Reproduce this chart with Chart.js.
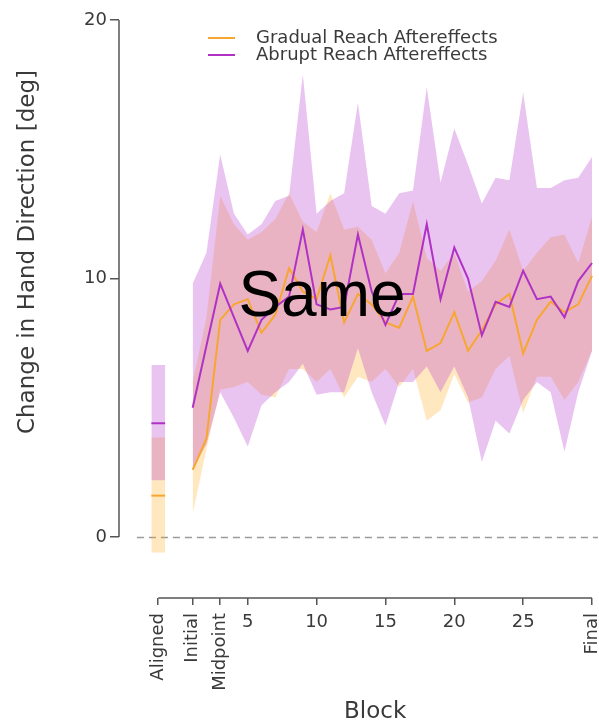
<!DOCTYPE html>
<html>
<head>
<meta charset="utf-8">
<script src="https://cdn.jsdelivr.net/npm/chart.js@4.4.0/dist/chart.umd.min.js"></script>
<style>
  html, body { margin: 0; padding: 0; background: #fff; }
  #chart { display: block; }
</style>
</head>
<body>
<canvas id="chart" width="599" height="723"></canvas>
<script>
// Training blocks
const blocks = [1, 2, 3, 4, 5, 6, 7, 8, 9, 10, 11, 12, 13, 14, 15,
                16, 17, 18, 19, 20, 21, 22, 23, 24, 25, 26, 27, 28, 29, 30];

// Gradual reach aftereffects (mean and shaded band)
const gradualMean = [2.6, 3.8, 8.4, 9.0, 9.2, 7.9, 8.6, 10.4, 9.5, 9.2, 10.9, 8.3, 9.4, 9.0, 8.3,
                     8.1, 9.3, 7.2, 7.5, 8.7, 7.2, 8.0, 9.0, 9.4, 7.1, 8.4, 9.1, 8.7, 9.0, 10.1];
const gradualLow  = [0.9, 3.4, 5.7, 5.8, 6.0, 5.5, 5.4, 6.5, 6.5, 6.0, 6.5, 5.4, 6.2, 6.0, 6.5,
                     5.8, 6.5, 4.5, 4.9, 6.3, 5.2, 5.4, 6.5, 7.0, 4.8, 6.2, 6.2, 5.3, 6.0, 7.2];
const gradualHigh = [6.0, 8.5, 13.2, 12.1, 11.5, 11.8, 12.3, 13.3, 12.2, 11.8, 13.3, 11.9, 12.0, 11.5, 10.2,
                     11.0, 13.0, 10.8, 10.3, 11.0, 9.5, 9.9, 10.7, 11.9, 10.3, 11.0, 11.6, 11.7, 10.6, 12.4];

// Abrupt reach aftereffects (mean and shaded band)
const abruptMean = [5.0, 7.4, 9.8, 8.5, 7.2, 8.4, 8.9, 9.3, 11.9, 9.0, 8.8, 8.9, 11.7, 9.5, 8.2,
                    9.4, 9.4, 12.1, 9.2, 11.2, 10.0, 7.8, 9.1, 8.9, 10.3, 9.2, 9.3, 8.5, 9.9, 10.6];
const abruptLow  = [2.6, 3.6, 5.6, 4.6, 3.5, 5.1, 5.6, 6.0, 6.7, 5.5, 5.6, 5.6, 7.3, 5.6, 4.3,
                    6.0, 6.0, 6.6, 5.6, 6.6, 5.4, 2.9, 4.5, 4.0, 5.3, 6.0, 5.6, 3.3, 5.6, 7.2];
const abruptHigh = [9.8, 11.0, 14.8, 12.5, 11.7, 12.1, 13.0, 13.2, 17.9, 12.5, 13.0, 13.3, 16.8, 12.8, 12.5,
                    13.3, 13.4, 17.4, 13.7, 15.8, 14.4, 12.9, 13.9, 13.8, 17.2, 13.5, 13.5, 13.8, 13.9, 14.7];

// Aligned baseline bar: [low, mean, high]
const alignedSpan = [-2, -1];
const alignedGradual = [-0.6, 1.6, 3.85];
const alignedAbrupt = [2.2, 4.4, 6.65];

const xTickValues = [-1.5, 1, 3, 5, 10, 15, 20, 25, 30];
const xTickLabels = ['Aligned', 'Initial', 'Midpoint', '5', '10', '15', '20', '25', 'Final'];
const yTickValues = [0, 10, 20];

const ORANGE = 'rgb(247, 166, 50)';
const PURPLE = 'rgb(176, 50, 196)';
const ORANGE_FILL = 'rgba(255, 168, 20, 0.27)';
const PURPLE_FILL = 'rgba(185, 58, 208, 0.3)';
const AXIS = '#555';
const TEXT = '#3a3a3a';
const FONT = '"DejaVu Sans", Verdana, sans-serif';

const pts = (ys) => blocks.map((b, i) => ({ x: b, y: ys[i] }));
const flat = (v) => alignedSpan.map(x => ({ x, y: v }));

function line(data, color, order) {
    return { data, borderColor: color, borderWidth: 2, pointRadius: 0, fill: false, order };
}
function band(data, color, order, fill) {
    return { data, borderWidth: 0, pointRadius: 0, backgroundColor: color, fill, order };
}

const datasets = [
    line(pts(abruptMean), PURPLE, 0),
    line(pts(gradualMean), ORANGE, 1),
    band(pts(abruptHigh), PURPLE_FILL, 2, '+1'),
    band(pts(abruptLow), PURPLE_FILL, 3, false),
    band(pts(gradualHigh), ORANGE_FILL, 4, '+1'),
    band(pts(gradualLow), ORANGE_FILL, 5, false),
    line(flat(alignedAbrupt[1]), PURPLE, 0),
    line(flat(alignedGradual[1]), ORANGE, 1),
    band(flat(alignedAbrupt[2]), PURPLE_FILL, 2, '+1'),
    band(flat(alignedAbrupt[0]), PURPLE_FILL, 3, false),
    band(flat(alignedGradual[2]), ORANGE_FILL, 4, '+1'),
    band(flat(alignedGradual[0]), ORANGE_FILL, 5, false)
];

const isWord = (label) => isNaN(Number(label));

// Extra drawing: offset axis lines, rotated tick words, titles, legend
const decorations = {
    id: 'decorations',
    beforeDatasetsDraw(chart) {
        const { ctx, chartArea, scales: { x, y } } = chart;
        const y0 = Math.round(y.getPixelForValue(0)) + 0.5;
        ctx.save();
        ctx.strokeStyle = '#9a9a9a';
        ctx.lineWidth = 1.3;
        ctx.setLineDash([7, 5]);
        ctx.beginPath();
        ctx.moveTo(x.getPixelForValue(-3.05), y0);
        ctx.lineTo(chartArea.right, y0);
        ctx.stroke();
        ctx.restore();
    },
    afterDraw(chart) {
        const { ctx, chartArea, scales: { x, y } } = chart;
        ctx.save();

        // axis lines
        ctx.strokeStyle = AXIS;
        ctx.lineWidth = 1.5;
        ctx.beginPath();
        ctx.moveTo(chartArea.left, y.getPixelForValue(0));
        ctx.lineTo(chartArea.left, y.getPixelForValue(20));
        ctx.moveTo(x.getPixelForValue(-1.5), chartArea.bottom);
        ctx.lineTo(x.getPixelForValue(30), chartArea.bottom);
        ctx.stroke();

        // rotated word ticks
        ctx.fillStyle = TEXT;
        ctx.font = '18px ' + FONT;
        ctx.textAlign = 'right';
        ctx.textBaseline = 'middle';
        xTickValues.forEach((v, i) => {
            if (!isWord(xTickLabels[i])) return;
            ctx.save();
            ctx.translate(x.getPixelForValue(v), chartArea.bottom + 15);
            ctx.rotate(-Math.PI / 2);
            ctx.fillText(xTickLabels[i], 0, 0);
            ctx.restore();
        });

        // axis titles
        ctx.font = '23px ' + FONT;
        ctx.textAlign = 'center';
        ctx.textBaseline = 'alphabetic';
        ctx.fillText('Block', (x.getPixelForValue(-1.5) + x.getPixelForValue(30)) / 2, 718);
        ctx.save();
        ctx.translate(34, 252);
        ctx.rotate(-Math.PI / 2);
        ctx.fillText('Change in Hand Direction [deg]', 0, 0);
        ctx.restore();

        // legend
        const legend = [['Gradual Reach Aftereffects', ORANGE], ['Abrupt Reach Aftereffects', PURPLE]];
        ctx.font = '18px ' + FONT;
        ctx.textAlign = 'left';
        ctx.textBaseline = 'middle';
        legend.forEach(([label, color], i) => {
            const ly = 38 + i * 17;
            ctx.strokeStyle = color;
            ctx.lineWidth = 2;
            ctx.beginPath();
            ctx.moveTo(208, ly);
            ctx.lineTo(235, ly);
            ctx.stroke();
            ctx.fillStyle = TEXT;
            ctx.fillText(label, 256, ly);
        });

        // overlay word
        ctx.fillStyle = '#000';
        ctx.font = '64px "Liberation Sans", Arial, sans-serif';
        ctx.textAlign = 'center';
        ctx.textBaseline = 'alphabetic';
        ctx.fillText('Same', 322, 316);

        ctx.restore();
    }
};

new Chart(document.getElementById('chart'), {
    type: 'line',
    data: { datasets },
    options: {
        responsive: false,
        animation: false,
        devicePixelRatio: 1,
        layout: { padding: { top: 20, right: 0, left: 0, bottom: 0 } },
        plugins: {
            legend: { display: false },
            tooltip: { enabled: false }
        },
        scales: {
            x: {
                type: 'linear',
                min: -4.35,
                max: 30.43,
                afterFit: (s) => { s.height = 125; },
                afterBuildTicks: (s) => { s.ticks = xTickValues.map(v => ({ value: v })); },
                border: { display: false },
                grid: { drawOnChartArea: false, drawTicks: true, tickLength: 7, color: AXIS, lineWidth: 1.5 },
                ticks: {
                    autoSkip: false,
                    maxRotation: 0,
                    minRotation: 0,
                    padding: 7,
                    color: TEXT,
                    font: { family: FONT, size: 18 },
                    callback: (v) => {
                        const i = xTickValues.indexOf(v);
                        return i < 0 || isWord(xTickLabels[i]) ? '' : xTickLabels[i];
                    }
                }
            },
            y: {
                min: -2.36,
                max: 20,
                afterFit: (s) => { s.width = 119; },
                afterBuildTicks: (s) => { s.ticks = yTickValues.map(v => ({ value: v })); },
                border: { display: false },
                grid: { drawOnChartArea: false, drawTicks: true, tickLength: 9, color: AXIS, lineWidth: 1.5 },
                ticks: {
                    padding: 3,
                    color: TEXT,
                    font: { family: FONT, size: 18 }
                }
            }
        }
    },
    plugins: [decorations]
});
</script>
</body>
</html>
